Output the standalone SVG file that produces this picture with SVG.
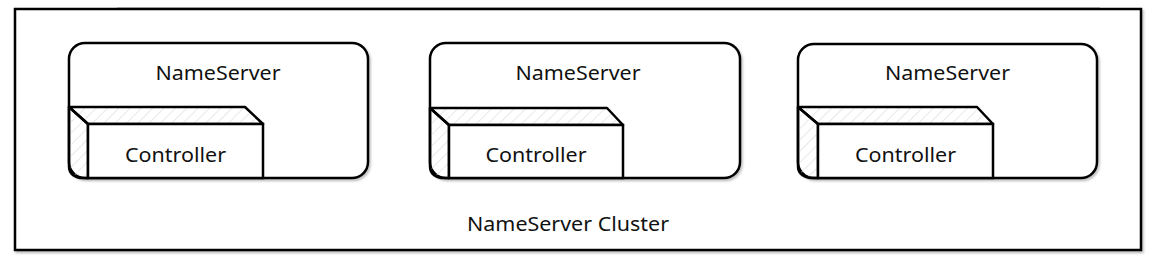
<svg xmlns="http://www.w3.org/2000/svg" width="1153" height="259" viewBox="0 0 1153 259">
<defs>
<pattern id="hatch" patternUnits="userSpaceOnUse" width="8" height="8" patternTransform="rotate(45)">
<line x1="0" y1="0" x2="0" y2="8" stroke="#d8d8d8" stroke-width="1.2"/>
</pattern>
<filter id="sh" x="-5%" y="-5%" width="110%" height="120%">
<feDropShadow dx="1.5" dy="2" stdDeviation="0.8" flood-color="#000" flood-opacity="0.25"/>
</filter>
</defs>
<style>
.box{fill:#fff;stroke:#000;stroke-width:2.5}
.hat{fill:url(#hatch);stroke:#000;stroke-width:2.5;stroke-linejoin:round}
.t{font-family:"Comic Sans MS","Noto Sans",sans-serif;font-size:19.5px;fill:#111;text-anchor:middle}
</style>
<g id="cluster">
<rect x="15" y="9" width="1126" height="241" class="box" filter="url(#sh)"/>
<line x1="117" y1="7.5" x2="1100" y2="7.5" stroke="#999" stroke-width="1"/>
<text x="568" y="231" class="t" textLength="202" lengthAdjust="spacingAndGlyphs">NameServer Cluster</text>
</g>
<g id="ns1">
<rect x="69" y="43" width="299" height="135" rx="16" class="box" filter="url(#sh)"/>
<text x="218" y="80" class="t" textLength="125" lengthAdjust="spacingAndGlyphs">NameServer</text>
</g>
<g id="ctrl1">
<path d="M69 107 L245 107 L263 124 L88 124 Z" class="hat"/>
<path d="M69 107 L88 124 L88 178 L80 178 Q69 176 69 166 Z" class="hat"/>
<rect x="88" y="124" width="175" height="54" class="box"/>
<text x="175.5" y="162" class="t" textLength="101" lengthAdjust="spacingAndGlyphs">Controller</text>
</g>
<g id="ns2">
<rect x="430" y="43" width="310" height="135" rx="16" class="box" filter="url(#sh)"/>
<text x="578" y="80" class="t" textLength="125" lengthAdjust="spacingAndGlyphs">NameServer</text>
</g>
<g id="ctrl2">
<path d="M430 108 L607 108 L623 125 L449 125 Z" class="hat"/>
<path d="M430 108 L449 125 L449 178 L441 178 Q430 176 430 166 Z" class="hat"/>
<rect x="449" y="125" width="174" height="53" class="box"/>
<text x="536" y="162" class="t" textLength="101" lengthAdjust="spacingAndGlyphs">Controller</text>
</g>
<g id="ns3">
<rect x="798" y="44" width="299" height="134" rx="16" class="box" filter="url(#sh)"/>
<text x="947.5" y="80" class="t" textLength="125" lengthAdjust="spacingAndGlyphs">NameServer</text>
</g>
<g id="ctrl3">
<path d="M798 107 L977 107 L993 124 L818 124 Z" class="hat"/>
<path d="M798 107 L818 124 L818 178 L810 178 Q798 176 798 166 Z" class="hat"/>
<rect x="818" y="124" width="175" height="54" class="box"/>
<text x="905.5" y="162" class="t" textLength="101" lengthAdjust="spacingAndGlyphs">Controller</text>
</g>
<g id="connectors"></g>
</svg>
